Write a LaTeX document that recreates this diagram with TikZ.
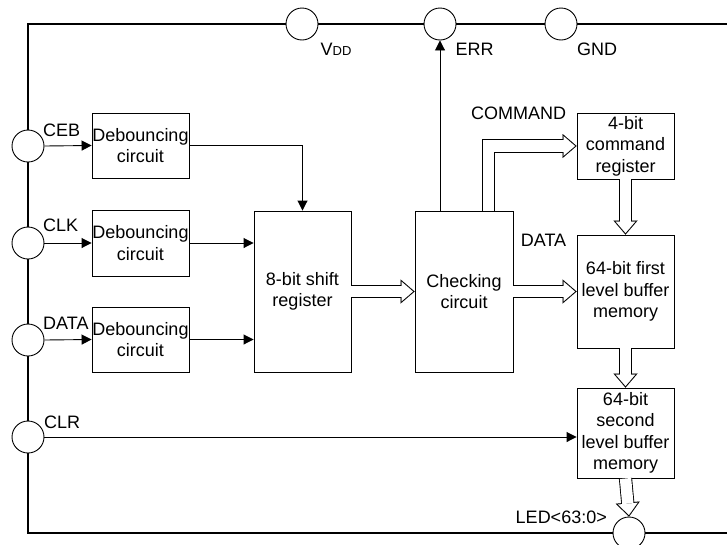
\documentclass[tikz,border=0pt]{standalone}
\usepackage{fontspec}
\setmainfont{Liberation Sans}
\usetikzlibrary{arrows.meta}

\begin{document}
\begin{tikzpicture}[x=1pt,y=-1pt,
  font=\fontsize{18}{21.5}\selectfont,
  pin/.style={draw,circle,fill=white,minimum size=32pt,inner sep=0pt,line width=0.9pt},
  blk/.style={draw,rectangle,align=center,inner sep=0pt,line width=0.9pt},
  lbl/.style={inner sep=0pt},
  sig/.style={line width=0.9pt,-{Triangle[length=10pt,width=10pt]}},
  bus/.style={draw=white,line width=11.4pt,line join=miter,shorten >=1.6pt,
    -{Triangle[length=11.4pt,width=19.6pt,line width=0.01pt]},
    preaction={draw=black,line width=13.2pt,line join=miter,shorten >=0pt,
      -{Triangle[length=14pt,width=24pt,line width=0.01pt]}}}]
\useasboundingbox (0,0) rectangle (727,544);
%% chip outline
\draw[line width=2pt] (727,24) -- (28,24) -- (28,533) -- (727,533);
%% pins
\node[pin] (vdd) at (302,24) {};
\node[pin] (err) at (440,24) {};
\node[pin] (gnd) at (561,24) {};
\node[pin] (ceb) at (28,146) {};
\node[pin] (clk) at (28,243) {};
\node[pin] (data) at (28,340) {};
\node[pin] (clr) at (28,437) {};
\node[pin] (led) at (629,533) {};
%% pin names
\node[lbl] (vddname) at (336,49) {V{\fontsize{13}{13}\selectfont DD}};
\node[lbl] (errname) at (474.5,49) {ERR};
\node[lbl] (gndname) at (597,49) {GND};
\node[lbl,anchor=west] (cebname) at (43,130) {CEB};
\node[lbl,anchor=west] (clkname) at (43,225) {CLK};
\node[lbl,anchor=west] (dataname) at (43,323) {DATA};
\node[lbl,anchor=west] (clrname) at (44,422) {CLR};
\node[lbl,anchor=east] (ledname) at (607,517) {LED<63:0>};
%% blocks
\node[blk,minimum width=97pt,minimum height=65pt] (deb1) at (140.5,145.5) {Debouncing\\circuit};
\node[blk,minimum width=97pt,minimum height=66pt] (deb2) at (140.5,243) {Debouncing\\circuit};
\node[blk,minimum width=97pt,minimum height=65pt] (deb3) at (140.5,339.5) {Debouncing\\circuit};
\node[blk,minimum width=97pt,minimum height=161pt] (shift) at (302.5,291.5) {8-bit shift\\register};
\node[blk,minimum width=98pt,minimum height=161pt] (check) at (464,291.5) {Checking\\circuit};
\node[blk,minimum width=97pt,minimum height=66pt] (cmd) at (625.5,146) {4-bit\\command\\register};
\node[blk,minimum width=97pt,minimum height=113pt] (buf1) at (625.5,291.5) {64-bit first\\level buffer\\memory};
\node[blk,minimum width=97pt,minimum height=90pt] (buf2) at (625.5,433) {64-bit\\second\\level buffer\\memory};
%% bus names
\node[lbl] (cmdname) at (518.5,113) {COMMAND};
\node[lbl] (busname) at (543.5,240) {DATA};
%% single wires
\draw[sig] (ceb.east) -- (deb1.west);
\draw[sig] (clk.east) -- (deb2.west);
\draw[sig] (data.east) -- (deb3.west);
\draw[sig] (deb1.east) -| (shift.north);
\draw[sig] (deb2.east) -- (deb2.east -| shift.west);
\draw[sig] (deb3.east) -- (deb3.east -| shift.west);
\draw[sig] (clr.east) -- (clr.east -| buf2.west);
\draw[sig] (check.north -| err.south) -- (err.south);
%% buses
\draw[bus] (shift.east) -- (check.west);
\draw[bus] (check.east) -- (buf1.west);
\draw[bus] ([xshift=24.5pt]check.north) |- (cmd.west);
\draw[bus] (cmd.south) -- (buf1.north);
\draw[bus] (buf1.south) -- (buf2.north);
\draw[bus] (buf2.south) -- (led.north);
\end{tikzpicture}
\end{document}
